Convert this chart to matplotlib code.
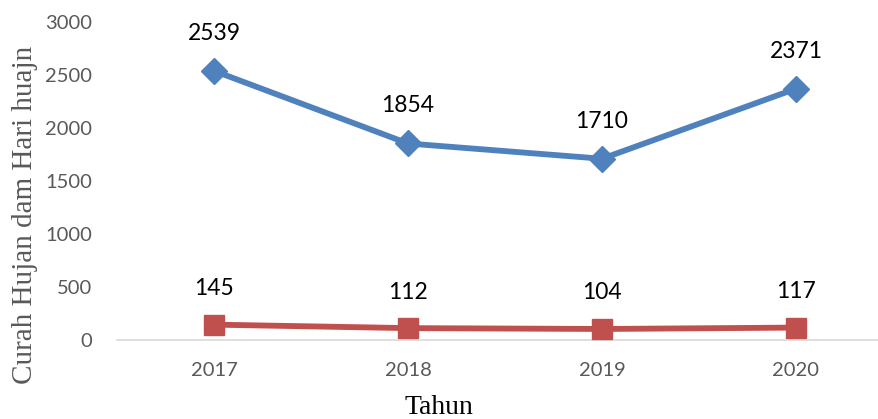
import matplotlib
matplotlib.use("Agg")
import matplotlib.pyplot as plt

years = ["2017", "2018", "2019", "2020"]
curah_hujan = [2539, 1854, 1710, 2371]
hari_hujan = [145, 112, 104, 117]

W, H = 879, 419
fig = plt.figure(figsize=(W / 100, H / 100), dpi=100)
left, right, bottom, top = 117, 879, 340, 22
ax = fig.add_axes([left / W, 1 - bottom / H, (right - left) / W, (bottom - top) / H])

x = list(range(len(years)))
ax.plot(x, curah_hujan, color="#4F81BD", lw=4.2, marker="D", ms=13,
        solid_joinstyle="round", zorder=3)
ax.plot(x, hari_hujan, color="#C0504D", lw=4.2, marker="s", ms=14,
        solid_joinstyle="round", zorder=3)

for xi, v in zip(x, curah_hujan):
    ax.annotate(str(v), (xi, v), xytext=(0, 27), textcoords="offset points",
                ha="center", va="center", fontsize=16.5, color="black",
                family="Lato")
for xi, v in zip(x, hari_hujan):
    ax.annotate(str(v), (xi, v), xytext=(0, 26), textcoords="offset points",
                ha="center", va="center", fontsize=16.5, color="black",
                family="Lato")

ax.set_xlim(-0.5, 3.5 - (893 - 879) / 194)
ax.set_ylim(0, 3000)
ax.set_yticks(range(0, 3001, 500))
ax.set_xticks(x)
ax.set_xticklabels(years)
ax.tick_params(axis="both", length=0, colors="#595959", labelsize=14.5)
for lab in ax.get_xticklabels() + ax.get_yticklabels():
    lab.set_family("Lato")
ax.tick_params(axis="x", pad=16)
ax.tick_params(axis="y", pad=18)
for s in ["top", "right", "left"]:
    ax.spines[s].set_visible(False)
ax.spines["bottom"].set_color("#D9D9D9")
ax.spines["bottom"].set_linewidth(1.2)
ax.patch.set_alpha(0)

fig.text(25 / W, 1 - 215 / H, "Curah Hujan dam Hari huajn", rotation=90, ha="center",
         va="center", family="Liberation Serif", fontsize=21, color="#595959")
fig.text(439 / W, 1 - 407 / H, "Tahun", ha="center", va="center",
         family="Liberation Serif", fontsize=20, color="black")

fig.savefig("out.png", dpi=100)
